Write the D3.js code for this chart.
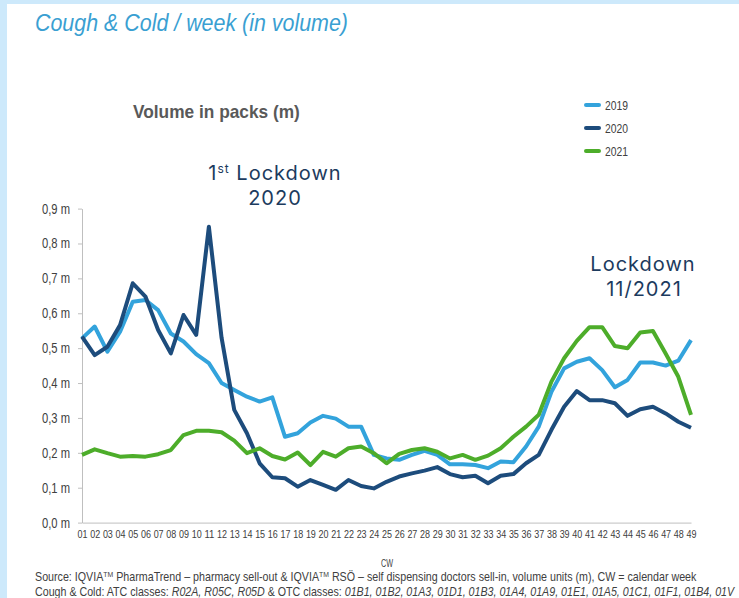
<!DOCTYPE html>
<html>
<head>
<meta charset="utf-8">
<script src="https://cdn.jsdelivr.net/npm/d3@7"></script>
<style>
  body { margin: 0; background: #cde9fb; }
  svg { display: block; }
  .narrow { font-family: "Liberation Sans Narrow", "Arial Narrow", "Liberation Sans", Arial, sans-serif; }
</style>
</head>
<body>
<div id="dataviz"></div>
<script>
// calendar weeks
var weeks = d3.range(1, 50).map(function(d){ return d < 10 ? "0" + d : "" + d; });

// volume in packs (m)
var vol2019 = [0.528,0.562,0.490,0.547,0.633,0.638,0.609,0.542,0.519,0.483,
               0.457,0.400,0.380,0.361,0.347,0.359,0.246,0.256,0.287,0.306,
               0.298,0.275,0.275,0.194,0.184,0.180,0.194,0.206,0.194,0.167,
               0.167,0.165,0.156,0.175,0.173,0.218,0.275,0.375,0.442,0.461,
               0.471,0.437,0.388,0.409,0.459,0.459,0.450,0.464,0.523];
var vol2020 = [0.533,0.480,0.504,0.566,0.686,0.648,0.552,0.485,0.595,0.538,
               0.848,0.530,0.323,0.256,0.170,0.130,0.127,0.103,0.122,0.108,
               0.094,0.122,0.105,0.098,0.117,0.132,0.141,0.149,0.159,0.139,
               0.130,0.134,0.113,0.134,0.139,0.170,0.194,0.266,0.332,0.377,
               0.351,0.351,0.342,0.306,0.325,0.332,0.313,0.289,0.272];
var vol2021 = [0.194,0.210,0.199,0.189,0.191,0.189,0.196,0.208,0.251,0.263,
               0.263,0.259,0.235,0.199,0.213,0.191,0.181,0.201,0.165,0.203,
               0.189,0.213,0.218,0.199,0.170,0.197,0.208,0.213,0.203,0.184,
               0.194,0.180,0.192,0.213,0.246,0.275,0.309,0.404,0.471,0.521,
               0.560,0.560,0.506,0.500,0.545,0.549,0.485,0.418,0.309];

var yTicks = [0, 0.1, 0.2, 0.3, 0.4, 0.5, 0.6, 0.7, 0.8, 0.9];

var seriesNames = ["2019", "2020", "2021"];
var seriesValues = [vol2019, vol2020, vol2021];
var colors = ["#33a3dc", "#1d4c7c", "#4dad2a"];

var W = 739, H = 598;
var margin = {top: 208.6, right: 48, bottom: 75.4, left: 82};

// squeeze a short text to a given width (no narrow font installed)
function squeeze(sel, w) {
  sel.attr("textLength", w).attr("lengthAdjust", "spacingAndGlyphs");
}

// squeeze a longer text with tspans by scaling it horizontally
function fitWidth(sel, x0, w) {
  var n = sel.node().getComputedTextLength();
  sel.attr("x", 0)
    .attr("transform", "translate(" + x0 + ",0) scale(" + (w / n) + ",1)");
}

var svg = d3.select("#dataviz")
  .append("svg")
    .attr("width", W)
    .attr("height", H);

// white panel
svg.append("rect")
  .attr("x", 7).attr("y", 4)
  .attr("width", W - 7).attr("height", H - 4)
  .attr("fill", "#ffffff");

var x = d3.scalePoint()
  .domain(weeks)
  .range([margin.left, W - margin.right]);

var y = d3.scaleLinear()
  .domain([0, 0.9])
  .range([H - margin.bottom, margin.top]);

// title
var title = svg.append("text")
  .attr("class", "narrow")
  .attr("y", 31)
  .attr("font-size", 23)
  .attr("font-style", "italic")
  .attr("fill", "#3a9fd2")
  .text("Cough & Cold / week (in volume)");
fitWidth(title, 35, 313);

// chart subtitle
var sub = svg.append("text")
  .attr("class", "narrow")
  .attr("y", 118)
  .attr("font-size", 18)
  .attr("font-weight", "bold")
  .attr("fill", "#595959")
  .text("Volume in packs (m)");
fitWidth(sub, 133, 167);

// Y axis
var yAxis = svg.append("g")
  .attr("class", "narrow")
  .attr("transform", "translate(" + margin.left + ",0)")
  .call(d3.axisLeft(y)
    .tickValues(yTicks)
    .tickSize(4)
    .tickSizeOuter(0)
    .tickPadding(8)
    .tickFormat(function(d){ return d3.format(".1f")(d).replace(".", ",") + " m"; }));
yAxis.select(".domain").attr("stroke", "#bfbfbf");
yAxis.selectAll(".tick line").attr("stroke", "#bfbfbf");
yAxis.selectAll(".tick text")
  .attr("font-size", 14)
  .attr("fill", "#404040")
  .call(squeeze, 28);

// X axis
var xAxis = svg.append("g")
  .attr("class", "narrow")
  .attr("transform", "translate(0," + y(0) + ")")
  .call(d3.axisBottom(x).tickSize(0).tickPadding(8));
xAxis.select(".domain").attr("stroke", "#bfbfbf");
xAxis.selectAll(".tick text")
  .attr("font-size", 10.5)
  .attr("fill", "#404040")
  .call(squeeze, 10);

// lines
var line = d3.line()
  .x(function(d, i){ return x(weeks[i]); })
  .y(function(d){ return y(d); });

seriesValues.forEach(function(vals, k){
  svg.append("path")
    .datum(vals)
    .attr("fill", "none")
    .attr("stroke", colors[k])
    .attr("stroke-width", 4)
    .attr("stroke-linejoin", "round")
    .attr("d", line);
});

// legend
var legend = svg.append("g")
  .attr("class", "narrow");
seriesNames.forEach(function(name, k){
  var ly = 105 + k * 23;
  legend.append("line")
    .attr("x1", 586).attr("x2", 599)
    .attr("y1", ly).attr("y2", ly)
    .attr("stroke", colors[k])
    .attr("stroke-width", 4)
    .attr("stroke-linecap", "round");
  legend.append("text")
    .attr("x", 605).attr("y", ly + 4.5)
    .attr("font-size", 12.5)
    .attr("fill", "#404040")
    .text(name)
    .call(squeeze, 23);
});

// annotations
var ann = svg.append("g")
  .attr("font-family", "Inter, 'Noto Sans', sans-serif")
  .attr("fill", "#1c3b5e")
  .attr("font-size", 20)
  .attr("letter-spacing", 1)
  .attr("text-anchor", "middle");

var a1 = ann.append("text").attr("x", 275).attr("y", 180);
a1.append("tspan").text("1");
a1.append("tspan").attr("font-size", 12).attr("dy", -7).text("st");
a1.append("tspan").attr("dy", 7).text(" Lockdown");
ann.append("text").attr("x", 275).attr("y", 205).text("2020");

ann.append("text").attr("x", 643).attr("y", 271).text("Lockdown");
ann.append("text").attr("x", 644).attr("y", 296).text("11/2021");

// x axis title
svg.append("text")
  .attr("class", "narrow")
  .attr("x", 387).attr("y", 567)
  .attr("font-size", 10)
  .attr("text-anchor", "middle")
  .attr("fill", "#404040")
  .text("CW")
  .call(squeeze, 12);

// source notes
var src = svg.append("g")
  .attr("class", "narrow")
  .attr("font-size", 12.5)
  .attr("fill", "#404040");

var s1 = src.append("text").attr("y", 581);
s1.append("tspan").text("Source: IQVIA");
s1.append("tspan").attr("font-size", 8).attr("dy", -4).text("TM");
s1.append("tspan").attr("dy", 4).text(" PharmaTrend \u2013 pharmacy sell-out & IQVIA");
s1.append("tspan").attr("font-size", 8).attr("dy", -4).text("TM");
s1.append("tspan").attr("dy", 4).text(" RS\u00d6 \u2013 self dispensing doctors sell-in, volume units (m), CW = calendar week");
fitWidth(s1, 35, 662);

var s2 = src.append("text").attr("y", 596);
s2.append("tspan").text("Cough & Cold: ATC classes: ");
s2.append("tspan").attr("font-style", "italic").text("R02A, R05C, R05D");
s2.append("tspan").text(" & OTC classes: ");
s2.append("tspan").attr("font-style", "italic").text("01B1, 01B2, 01A3, 01D1, 01B3, 01A4, 01A9, 01E1, 01A5, 01C1, 01F1, 01B4, 01V");
fitWidth(s2, 35, 700);
</script>
</body>
</html>
